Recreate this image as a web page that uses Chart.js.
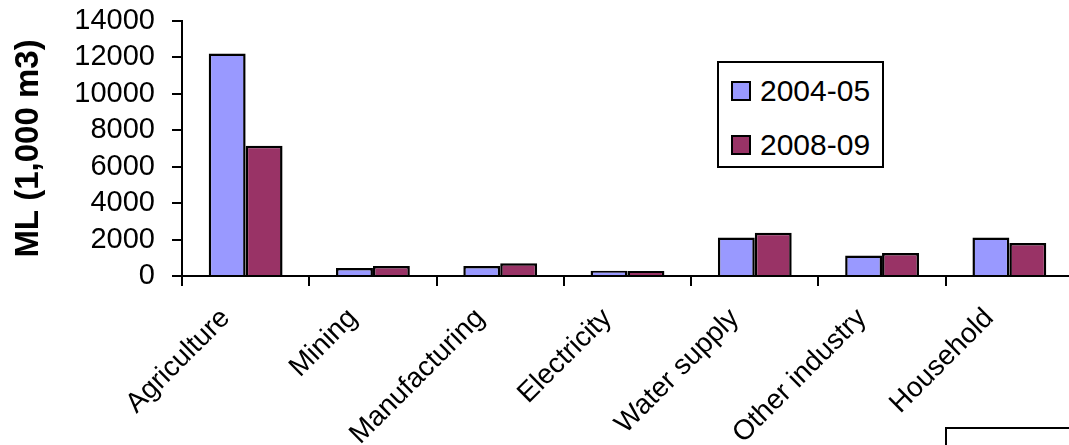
<!DOCTYPE html>
<html>
<head>
<meta charset="utf-8">
<script src="https://cdn.jsdelivr.net/npm/chart.js@4/dist/chart.umd.min.js"></script>
<style>
  html, body { margin: 0; padding: 0; background: #fff; overflow: hidden; width: 1069px; height: 445px; }
  #wrap { position: absolute; left: 0; top: 0; width: 1080px; height: 445px; }
  #legend {
    position: absolute; left: 717px; top: 61px; width: 163px; height: 103px;
    border: 2px solid #000; background: #fff;
    font-family: "Liberation Sans", Arial, sans-serif; font-size: 30px; color: #000;
  }
  .item { position: absolute; left: 12px; height: 30px; line-height: 30px; white-space: nowrap; }
  .swatch { position: absolute; left: 0; top: 5px; width: 16px; height: 16px; border: 2px solid #000; }
  .label { position: absolute; left: 29px; top: 0; }
  #note { position: absolute; left: 945px; top: 427px; width: 200px; height: 100px; border: 2px solid #000; }
</style>
</head>
<body>
<div id="wrap"><canvas id="c"></canvas></div>
<div id="legend"></div>
<div id="note"></div>
<script>
// Water consumption by sector, ML (1,000 m3)
const categories = ['Agriculture', 'Mining', 'Manufacturing', 'Electricity', 'Water supply', 'Other industry', 'Household'];
const seriesNames = ['2004-05', '2008-09'];
const values2004 = [12210, 440, 550, 290, 2110, 1120, 2110];
const values2008 = [7150, 550, 700, 275, 2380, 1265, 1815];
const yTicks = [0, 2000, 4000, 6000, 8000, 10000, 12000, 14000];

const FONT = '"Liberation Sans", Arial, sans-serif';

const chart = new Chart(document.getElementById('c'), {
  type: 'bar',
  data: {
    labels: categories,
    datasets: [
      { label: seriesNames[0], data: values2004, backgroundColor: '#9999FF', borderColor: '#000', borderWidth: 2.5 },
      { label: seriesNames[1], data: values2008, backgroundColor: '#993366', borderColor: '#000', borderWidth: 2.5 }
    ]
  },
  options: {
    responsive: true,
    maintainAspectRatio: false,
    animation: false,
    categoryPercentage: 0.58,
    barPercentage: 1.0,
    layout: { padding: { left: 0, right: 7, top: 21, bottom: 0 } },
    plugins: { legend: { display: false }, tooltip: { enabled: false } },
    scales: {
      x: {
        grid: { display: true, drawOnChartArea: false, drawTicks: true, tickLength: 10, color: '#000', lineWidth: 2 },
        border: { display: true, color: '#000', width: 2 },
        ticks: {
          autoSkip: false, minRotation: 45, maxRotation: 45,
          color: '#000', font: { family: FONT, size: 28 }, padding: 16, labelOffset: -20
        },
        afterFit: (s) => { s.height = 169; }
      },
      y: {
        min: yTicks[0],
        max: yTicks[yTicks.length - 1],
        grid: { display: true, drawOnChartArea: false, drawTicks: true, tickLength: 10, color: '#000', lineWidth: 2 },
        border: { display: true, color: '#000', width: 2 },
        ticks: {
          autoSkip: false,
          stepSize: yTicks[1] - yTicks[0],
          callback: (v) => String(v),
          color: '#000', font: { family: FONT, size: 29 }, padding: 17
        },
        title: { display: true, text: 'ML (1,000 m3)', color: '#000', font: { family: FONT, size: 33, weight: 'bold' }, padding: { top: 9, bottom: 0 } },
        afterFit: (s) => { s.width = 182; s.paddingTop = 0; s.paddingBottom = 0; }
      }
    }
  }
});

// Legend built from the chart's datasets
const legend = document.getElementById('legend');
chart.data.datasets.forEach((ds, i) => {
  const item = document.createElement('div');
  item.className = 'item';
  item.style.top = (13 + i * 54) + 'px';
  const sw = document.createElement('span');
  sw.className = 'swatch';
  sw.style.background = ds.backgroundColor;
  const tx = document.createElement('span');
  tx.className = 'label';
  tx.textContent = ds.label;
  item.appendChild(sw);
  item.appendChild(tx);
  legend.appendChild(item);
});
</script>
</body>
</html>
